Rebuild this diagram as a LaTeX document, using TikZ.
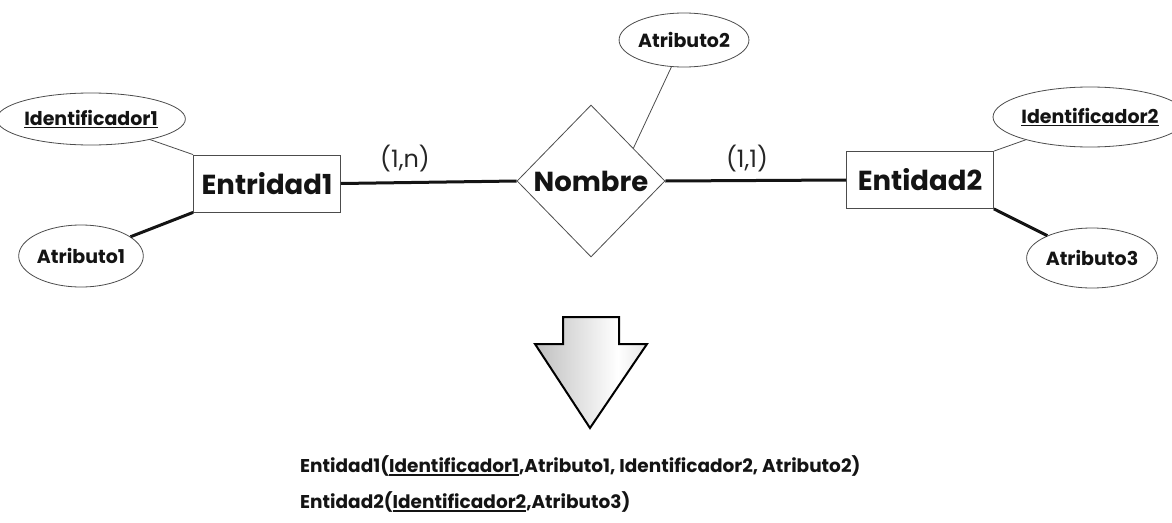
\documentclass[tikz,border=0pt]{standalone}
\usepackage{fontspec}
\setmainfont{Poppins}
\usetikzlibrary{shapes.geometric,calc}

% thick underline for key attributes
\newcommand\keyul[1]{\setbox0\hbox{#1}\rlap{\rule[-3.2pt]{\wd0}{1.7pt}}\box0}

\pgfdeclarehorizontalshading{arrowshade}{100bp}{%
  color(0bp)=(black!42); color(62bp)=(white); color(100bp)=(black!30)}

\begin{document}
\begin{tikzpicture}[x=1pt,y=-1pt,
  thinline/.style={draw=black!70,line width=0.8pt},
  boldline/.style={draw=black!92,line width=3pt},
  entitybox/.style={rectangle,thinline,minimum width=147pt,minimum height=57pt,
    inner sep=0pt,font=\fontsize{27.5}{27.5}\selectfont\bfseries,text=black!92},
  relbox/.style={diamond,thinline,minimum width=148pt,minimum height=152pt,aspect=0.97,
    inner sep=0pt,font=\fontsize{27.5}{27.5}\selectfont\bfseries,text=black!92},
  attrib/.style={ellipse,thinline,inner sep=0pt,
    font=\fontsize{19}{19}\selectfont\bfseries,text=black!92},
  card/.style={font=\fontsize{24}{24}\selectfont,text=black!85},
  schema/.style={anchor=west,inner sep=0pt,font=\fontsize{18.5}{18.5}\selectfont\bfseries,text=black!92}]

\useasboundingbox (0,0) rectangle (1172,522);

% entities and relationship
\node[entitybox] (e1) at (267,183.5) {Entridad1};
\node[relbox] (rel) at (591,181) {Nombre};
\node[entitybox] (e2) at (920,180) {Entidad2};

% attributes
\node[attrib,minimum width=162pt,minimum height=52pt] (id1) at (91,119) {\keyul{Identificador1}};
\node[attrib,minimum width=122pt,minimum height=62pt] (at1) at (81,256) {Atributo1};
\node[attrib,minimum width=122pt,minimum height=54pt] (at2) at (684,40) {Atributo2};
\node[attrib,minimum width=161pt,minimum height=60pt] (id2) at (1090,117) {\keyul{Identificador2}};
\node[attrib,minimum width=122pt,minimum height=60pt] (at3) at (1092,258) {Atributo3};

% connectors
\coordinate (relhook) at ($(rel.north)!0.57!(rel.east)$);
\draw[boldline] (e1.east) -- (rel.west);
\draw[boldline] (rel.east) -- (e2.west);
\draw[thinline] (id1) -- (e1.north west);
\draw[boldline] (at1) -- (e1.south west);
\draw[thinline] (at2) -- (relhook);
\draw[thinline] (id2) -- (e2.north east);
\draw[boldline] (at3) -- (e2.south east);

% cardinalities
\node[card] (c1) at (405,159) {(1,n)};
\node[card] (c2) at (747,159) {(1,1)};

% transformation arrow
\draw[shading=arrowshade,draw=black,line width=2pt,line join=miter]
  (563,317) -- (619,317) -- (619,344) -- (647,344) -- (590,428)
  -- (535,344) -- (563,344) -- cycle;

% resulting relational schema
\node[schema] (r1) at (300,466) {Entidad1(\keyul{Identificador1},Atributo1, Identificador2, Atributo2)};
\node[schema] (r2) at (300,502) {Entidad2(\keyul{Identificador2},Atributo3)};

\end{tikzpicture}
\end{document}
